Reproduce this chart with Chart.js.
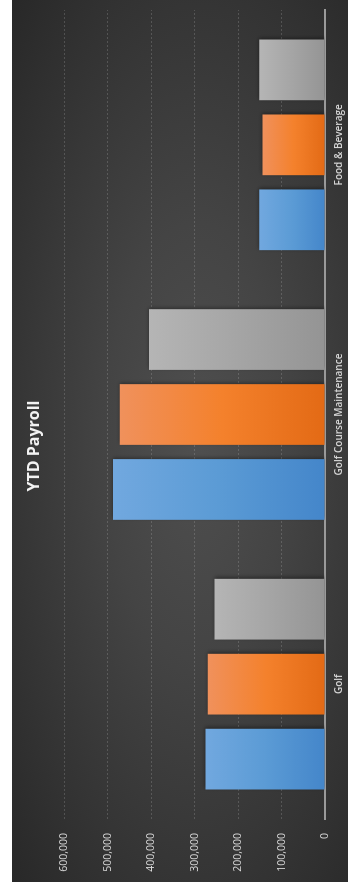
<!DOCTYPE html>
<html>
<head>
<meta charset="utf-8">
<script src="https://cdn.jsdelivr.net/npm/chart.js@4.4.1/dist/chart.umd.min.js"></script>
<style>
  html, body { margin: 0; padding: 0; background: #fff; width: 348px; height: 888px; overflow: hidden; }
  /* chart is drawn landscape then turned a quarter left */
  #box {
    position: absolute; left: 0; top: 0;
    width: 882px; height: 336px;
    transform-origin: 0 0;
    transform: translate(12px, 882px) rotate(-90deg);
    background: radial-gradient(ellipse at 50% 55%, #4f4f4f 0%, #444 35%, #282828 100%);
  }
</style>
</head>
<body>
<div id="box"><canvas id="payrollChart"></canvas></div>
<script>
const categories = ['Golf', 'Golf Course Maintenance', 'Food & Beverage'];
const seriesA = [275000, 488000, 151000];
const seriesB = [270000, 472000, 144000];
const seriesC = [254000, 405000, 151000];
const yTicks = [0, 100000, 200000, 300000, 400000, 500000, 600000];

Chart.defaults.font.family = "'Open Sans', 'DejaVu Sans', sans-serif";

// gradient per bar: light at the tip, darker at the baseline
function barFill(light, mid, dark) {
    return (c) => {
        const { ctx, chartArea, scales } = c.chart;
        if (!chartArea || c.type !== 'data') return mid;
        const top = scales.y.getPixelForValue(c.raw);
        const bottom = scales.y.getPixelForValue(0);
        const g = ctx.createLinearGradient(0, top, 0, bottom);
        g.addColorStop(0, light);
        g.addColorStop(0.5, mid);
        g.addColorStop(1, dark);
        return g;
    };
}

const barShadow = {
    id: 'barShadow',
    beforeDatasetsDraw(chart) {
        const ctx = chart.ctx;
        ctx.save();
        ctx.shadowColor = 'rgba(0,0,0,0.4)';
        ctx.shadowBlur = 4;
        ctx.shadowOffsetX = 1.5;
        ctx.shadowOffsetY = 0;
    },
    afterDatasetsDraw(chart) {
        chart.ctx.restore();
    }
};

const ctx = document.getElementById('payrollChart').getContext('2d');
new Chart(ctx, {
    type: 'bar',
    data: {
        labels: categories,
        datasets: [
            { label: 'Series 1', data: seriesA, backgroundColor: barFill('#71a8df', '#5b9bd5', '#4486ca') },
            { label: 'Series 2', data: seriesB, backgroundColor: barFill('#f0915c', '#f4812c', '#e36a15') },
            { label: 'Series 3', data: seriesC, backgroundColor: barFill('#b5b5b5', '#a5a5a5', '#949494') }
        ]
    },
    options: {
        responsive: true,
        maintainAspectRatio: false,
        animation: false,
        categoryPercentage: 0.834,
        barPercentage: 0.81,
        layout: { padding: { left: 0, right: 10, top: 0, bottom: 0 } },
        plugins: {
            legend: { display: false },
            tooltip: { enabled: false },
            title: {
                display: true,
                text: 'YTD Payroll',
                color: '#f2f2f2',
                font: { size: 16, weight: 'bold' },
                padding: { top: 13, bottom: 20 }
            }
        },
        scales: {
            x: {
                grid: { display: false, drawTicks: false },
                border: { display: true, color: '#9a9a9a', width: 2 },
                ticks: { color: '#d4d4d4', font: { size: 10, weight: '600' }, padding: 8 },
                afterFit(s) { s.height = 23; }
            },
            y: {
                min: 0,
                max: 600000,
                afterBuildTicks(s) { s.ticks = yTicks.map(v => ({ value: v })); },
                grid: {
                    color: (c) => c.tick && c.tick.value === 0 ? 'rgba(0,0,0,0)' : 'rgba(210,210,210,0.2)',
                    lineWidth: 1,
                    drawTicks: false
                },
                border: { display: false, dash: [2, 2] },
                ticks: {
                    color: '#d9d9d9',
                    font: { size: 10.5 },
                    padding: 14,
                    callback: (v) => Number(v).toLocaleString('en-US')
                },
                afterFit(s) { s.width = 63; }
            }
        }
    },
    plugins: [barShadow]
});
</script>
</body>
</html>
